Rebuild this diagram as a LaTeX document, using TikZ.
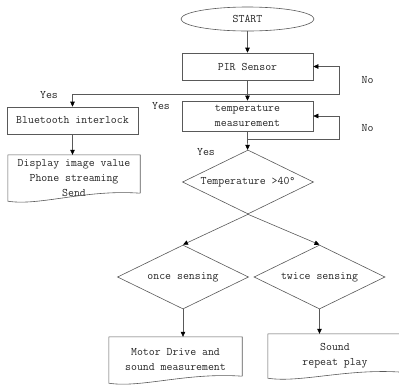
\documentclass[tikz,border=0pt]{standalone}
\usepackage{fontspec}
\usetikzlibrary{shapes.geometric, arrows.meta, calc, positioning}

\tikzset{
    conn/.style={draw=black!65, line width=0.6pt},
    connarr/.style={conn, -{Triangle[length=5pt, width=4.5pt, color=black]}},
    txt/.style={font=\ttfamily\fontsize{11.5}{15}\selectfont, text=black!85, align=center, inner sep=0pt},
    box/.style={txt, conn, rectangle, minimum width=131pt, minimum height=27pt},
    doc/.style={txt, rectangle, minimum width=132pt, minimum height=46pt},
    cond/.style={txt, conn, diamond, aspect=2, minimum width=131pt, minimum height=64pt},
    term/.style={txt, conn, ellipse, minimum width=133pt, minimum height=24pt},
}

% document box: straight top and sides, wavy bottom (right end raised by #2)
\newcommand{\docshape}[2]{%
    \draw[conn] ($(#1.south east)+(0,-#2)$) -- (#1.north east) -- (#1.north west) -- (#1.south west)
        .. controls +(32,5) and ($(#1.south east)+(-55,-#2-4)$) .. ($(#1.south east)+(0,-#2)$);}

\begin{document}
\begin{tikzpicture}[x=1pt, y=-1pt]
    \useasboundingbox (0,0) rectangle (399,384);
    \clip (0,0) rectangle (399,384);

    \node[term] (start) at (247.5,19) {START};
    \node[box] (pir) at (247.5,66.5) {PIR Sensor};
    \node[box, minimum height=30pt] (temp) at (247.5,116) {temperature\\measurement};
    \node[box] (bt) at (72.5,120.5) {Bluetooth interlock};
    \node[doc] (disp) at (74,178) {Display image value\\Phone streaming\\Send};
    \node[cond] (hot) at (248,182) {Temperature >40°};
    \node[cond] (once) at (183,277) {once sensing};
    \node[cond] (twice) at (319.5,277) {twice sensing};
    \node[doc, minimum width=133pt] (motor) at (175.5,360) {Motor Drive and\\sound measurement};
    \node[doc, minimum width=134pt, minimum height=44pt] (sound) at (335,356) {Sound\\repeat play};

    \docshape{disp}{8}
    \docshape{motor}{7}
    \docshape{sound}{6}

    % branch points
    \coordinate (j1) at (247.5,94);
    \coordinate (r1) at (339,94);
    \coordinate (j2) at (247.5,139);
    \coordinate (r2) at (339,139);

    \draw[connarr] (start) -- (pir);
    \draw[conn] (pir) -- (j1);
    \draw[connarr] (j1) -- (temp);
    \draw[connarr] (j1) -| (bt);
    \draw[connarr] (j1) -- (r1) |- (pir.east);
    \draw[connarr] (bt.south) -- (bt.south |- disp.north);
    \draw[conn] (temp) -- (j2);
    \draw[connarr] (j2) -- (hot);
    \draw[connarr] (j2) -- (r2) |- (temp.east);
    \draw[connarr] (hot.south) -- (once.north);
    \draw[connarr] (hot.south) -- (twice.north);
    \draw[connarr] (once.south) -- (once.south |- motor.north);
    \draw[connarr] (twice.south) -- (twice.south |- sound.north);

    \node[txt] (yes1) at (49,95.5) {Yes};
    \node[txt] (yes2) at (161,106.5) {Yes};
    \node[txt] (yes3) at (206,152.5) {Yes};
    \node[txt] (no1) at (367.5,80) {No};
    \node[txt] (no2) at (367.5,128) {No};
\end{tikzpicture}
\end{document}
